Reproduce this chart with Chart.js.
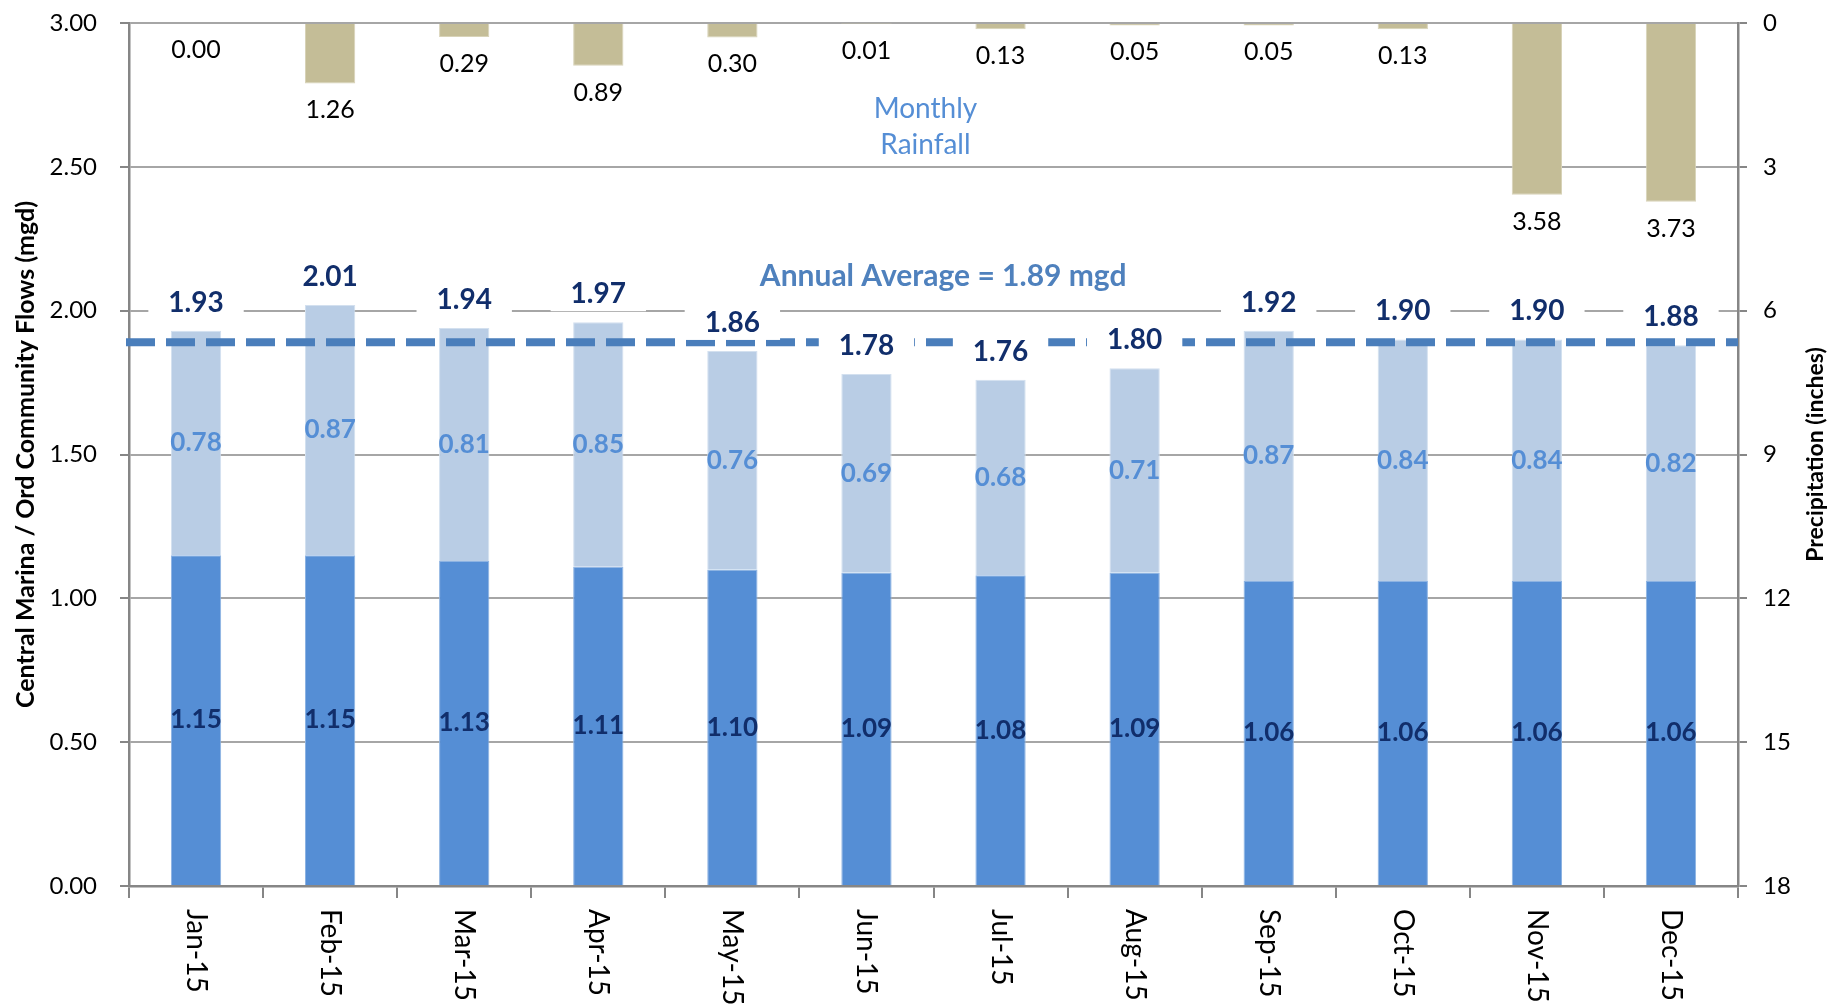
<!DOCTYPE html>
<html>
<head>
<meta charset="utf-8">
<script src="https://cdn.jsdelivr.net/npm/chart.js@4.4.1/dist/chart.umd.min.js"></script>
<style>
  html, body { margin: 0; padding: 0; background: #fff; }
  #wrap { width: 1835px; height: 1005px; position: relative; }
</style>
</head>
<body>
<div id="wrap"><canvas id="flows"></canvas></div>
<script>
// months on the x axis
const months = ["Jan-15", "Feb-15", "Mar-15", "Apr-15", "May-15", "Jun-15",
                "Jul-15", "Aug-15", "Sep-15", "Oct-15", "Nov-15", "Dec-15"];
// monthly rainfall (inches), right axis, hanging from the top
const rainfall = [0.00, 1.26, 0.29, 0.89, 0.30, 0.01, 0.13, 0.05, 0.05, 0.13, 3.58, 3.73];
// lower (dark) and upper (light) part of the flow bars (mgd)
const baseFlow = [1.15, 1.15, 1.13, 1.11, 1.10, 1.09, 1.08, 1.09, 1.06, 1.06, 1.06, 1.06];
const upperFlow = [0.78, 0.87, 0.81, 0.85, 0.76, 0.69, 0.68, 0.71, 0.87, 0.84, 0.84, 0.82];
// total flow labels as printed on the chart
const totalFlow = [1.93, 2.01, 1.94, 1.97, 1.86, 1.78, 1.76, 1.80, 1.92, 1.90, 1.90, 1.88];
const annualAverage = 1.89;

const navy = "#112E6B";
const axisGrey = "#868686";

//Plugin that draws the average line, all the value labels and the notes
const overlay = {
  id: "overlay",
  afterDatasetsDraw: chart => {
    const ctx = chart.ctx;
    const area = chart.chartArea;
    const x = chart.scales.x, y = chart.scales.y, yR = chart.scales.yR;
    ctx.save();

    //annual average dashed line
    const yAvg = y.getPixelForValue(annualAverage);
    ctx.strokeStyle = "#4A7EBB";
    ctx.lineWidth = 8;
    ctx.setLineDash([29, 11]);
    ctx.beginPath();
    ctx.moveTo(area.left - 3, yAvg);
    ctx.lineTo(area.right, yAvg);
    ctx.stroke();
    ctx.setLineDash([]);

    ctx.textAlign = "center";
    ctx.textBaseline = "middle";

    //rainfall labels under each hanging bar
    ctx.font = "25px Lato";
    ctx.fillStyle = "#000";
    chart.getDatasetMeta(0).data.forEach((bar, i) => {
      ctx.fillText(rainfall[i].toFixed(2), bar.x, bar.y + 27);
    });

    //segment labels
    ctx.font = "bold 26px Lato";
    ctx.fillStyle = navy;
    chart.getDatasetMeta(1).data.forEach((bar, i) => {
      ctx.fillText(baseFlow[i].toFixed(2), bar.x, (bar.y + bar.base) / 2);
    });
    ctx.fillStyle = "#558ED5";
    const upMeta = chart.getDatasetMeta(2);
    upMeta.data.forEach((bar, i) => {
      ctx.fillText(upperFlow[i].toFixed(2), bar.x, (bar.y + bar.base) / 2);
    });

    //totals on a white box
    ctx.font = "bold 28px Lato";
    upMeta.data.forEach((bar, i) => {
      const t = totalFlow[i].toFixed(2);
      const w = ctx.measureText(t).width;
      const cy = bar.y - 28;
      ctx.fillStyle = "#fff";
      ctx.fillRect(bar.x - w / 2 - 20, cy - 17, w + 40, 34);
      ctx.fillStyle = navy;
      ctx.fillText(t, bar.x, cy);
    });

    //notes
    const noteX = area.left + area.width * 0.495;
    ctx.font = "28px Lato";
    ctx.fillStyle = "#558ED5";
    ctx.fillText("Monthly", noteX, yR.getPixelForValue(1.8));
    ctx.fillText("Rainfall", noteX, yR.getPixelForValue(2.55));
    ctx.font = "bold 30px Lato";
    ctx.fillStyle = "#4F81BD";
    ctx.fillText("Annual Average = 1.89 mgd", area.left + area.width * 0.506, y.getPixelForValue(2.12));

    //month labels, turned to read downwards
    ctx.font = "28px Lato";
    ctx.fillStyle = "#000";
    ctx.textAlign = "left";
    months.forEach((m, i) => {
      ctx.save();
      ctx.translate(x.getPixelForTick(i), x.top + 23);
      ctx.rotate(Math.PI / 2);
      ctx.fillText(m, 0, 0);
      ctx.restore();
    });

    //right axis title
    ctx.font = "bold 23px Lato";
    ctx.textAlign = "center";
    ctx.save();
    ctx.translate(chart.width - 19, (area.top + area.bottom) / 2);
    ctx.rotate(-Math.PI / 2);
    ctx.fillText("Precipitation (inches)", 0, 0);
    ctx.restore();

    ctx.restore();
  }
};

Chart.defaults.font.family = "Lato";
Chart.defaults.color = "#000";

let flowChart = new Chart(document.getElementById("flows"), {
  type: "bar",
  plugins: [overlay],
  data: {
    labels: months,
    datasets: [
      {
        label: "Monthly Rainfall",
        data: rainfall,
        yAxisID: "yR",
        stack: "all",
        backgroundColor: "#C4BD97",
        borderColor: "#D8D3B8",
        borderWidth: 1,
      },
      {
        label: "Base flow",
        data: baseFlow,
        yAxisID: "y",
        stack: "all",
        backgroundColor: "#558ED5",
        borderColor: "#8DB3E2",
        borderWidth: 1,
      },
      {
        label: "Upper flow",
        data: upperFlow,
        yAxisID: "y",
        stack: "all",
        backgroundColor: "#B9CDE5",
        borderColor: "#D3E0EF",
        borderWidth: 1,
      },
    ],
  },
  options: {
    responsive: true,
    maintainAspectRatio: false,
    animation: false,
    barPercentage: 0.375,
    categoryPercentage: 1,
    layout: { padding: { top: 23, left: 0, right: 0, bottom: 0 } },
    plugins: {
      legend: { display: false },
      tooltip: { enabled: false },
    },
    scales: {
      x: {
        stacked: true,
        ticks: { display: false },
        grid: { drawOnChartArea: false, offset: true, tickLength: 12, color: axisGrey, lineWidth: 2 },
        border: { color: axisGrey, width: 2.5 },
        afterFit: s => { s.height = 119; },
      },
      y: {
        position: "left",
        stacked: true,
        min: 0,
        max: 3,
        ticks: {
          stepSize: 0.5,
          callback: v => Number(v).toFixed(2),
          font: { size: 24 },
          color: "#000",
          padding: 23,
        },
        grid: { color: "#A6A6A6", lineWidth: 2, tickLength: 9, tickColor: axisGrey },
        border: { color: axisGrey, width: 2.5 },
        title: {
          display: true,
          text: "Central Marina / Ord Community Flows (mgd)",
          font: { size: 25, weight: "bold" },
          color: "#000",
          padding: { top: 11, bottom: 0 },
        },
        afterFit: s => { s.width = 129; s.paddingTop = 0; s.paddingBottom = 0; },
      },
      yR: {
        position: "right",
        min: 0,
        max: 18,
        reverse: true,
        ticks: { stepSize: 3, font: { size: 24 }, color: "#000", padding: 16 },
        grid: { drawOnChartArea: false, tickLength: 9, color: axisGrey, lineWidth: 2 },
        border: { color: axisGrey, width: 2.5 },
        afterFit: s => { s.width = 97; s.paddingTop = 0; s.paddingBottom = 0; },
      },
    },
  },
});
</script>
</body>
</html>
